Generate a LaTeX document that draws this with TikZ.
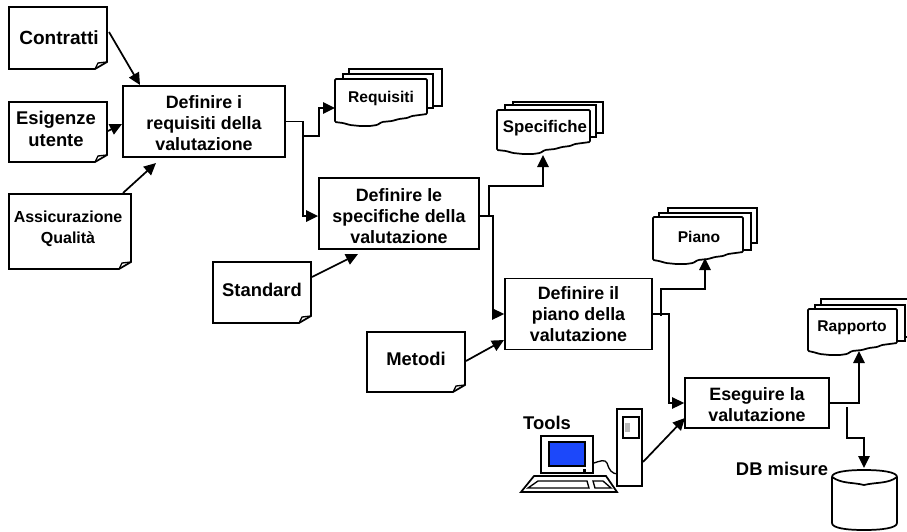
\documentclass[tikz,border=0pt]{standalone}
\usepackage{fontspec}
\setmainfont{Liberation Sans}
\usetikzlibrary{arrows.meta}
\tikzset{
  stepbox/.style = {draw, line width=1.3pt, minimum width=#1, align=center, inner sep=0pt, font=\bfseries\fontsize{13.4}{16}\selectfont},
  label/.style = {align=center, inner sep=0pt, font=\bfseries\fontsize{13.8}{16}\selectfont},
  smalllabel/.style = {align=center, inner sep=0pt, font=\bfseries\fontsize{12}{16}\selectfont},
  doclabel/.style = {align=center, inner sep=0pt, font=\bfseries\fontsize{11.7}{14}\selectfont},
  flow/.style = {line width=1.3pt, -{Triangle[length=9pt,width=8.5pt]}},
  outline/.style = {line width=1.3pt, line join=miter, fill=white}
}
% note with the folded corner: left, top, right, bottom
\newcommand{\notepage}[4]{
  \draw[outline] (#1,#2) -- (#3,#2) -- (#3,#4-7) -- (#3-12,#4) -- (#1,#4) -- cycle;
  \draw[line width=1pt] (#3-12,#4) -- (#3-9,#4-6) -- (#3,#4-7);
}
% sheet behind the front one: left, top, right, bottom
\newcommand{\backsheet}[4]{
  \draw[outline] (#1,#2) rectangle (#3,#4);
}
% front sheet with a torn lower edge: left, top, right, bottom at the right
\newcommand{\tornsheet}[4]{
  \draw[outline, rounded corners=.8pt] (#1,#4+8) -- (#1,#2) -- (#3,#2) -- (#3,#4)
    -- (#3-15,#4+2) -- (#3-20,#4+4) -- (#3-28,#4+5) -- (#3-35,#4+7) -- (#3-45,#4+8)
    -- (#3-50,#4+11) -- (#3-57,#4+12) -- (#3-67,#4+12) -- (#3-77,#4+11) -- (#3-84,#4+9) -- cycle;
}
\begin{document}
\begin{tikzpicture}[x = .75pt, y = -.75pt]
\useasboundingbox (0,0) rectangle (907,532);
% requirement notes
\notepage{9}{7}{107}{69}
\notepage{9}{102}{107}{162}
\notepage{9}{194}{131}{269}
\notepage{213}{262}{311}{323}
\notepage{367}{332}{465}{392}
\node[label, font=\bfseries\fontsize{14.3}{16}\selectfont] (contratti) at (59,38) {Contratti};
\node[label] (esigenze) at (56,129) {Esigenze\\utente};
\node[smalllabel] (assicurazione) at (68,229) {Assicurazione\\Qualità};
\node[label] (standard) at (262,290) {Standard};
\node[label] (metodi) at (416,359) {Metodi};
% process boxes
\node[stepbox=162*.75pt, minimum height=71*.75pt] (requisiti) at (204,121.5) {\rule{0pt}{12pt}Definire i\\requisiti della\\valutazione};
\node[stepbox=160*.75pt, minimum height=71*.75pt] (specifiche) at (399,213.5) {\rule{0pt}{13.5pt}Definire le\\specifiche della\\valutazione};
\node[stepbox=147*.75pt, minimum height=71*.75pt] (piano) at (578.5,314) {Definire il\\piano della\\valutazione};
\node[stepbox=144*.75pt, minimum height=50*.75pt] (esegui) at (757,403) {\rule{0pt}{12.6pt}Eseguire la\\valutazione};
% document stacks
\backsheet{349}{69}{442}{106}
\backsheet{343}{74}{433}{108}
\tornsheet{335}{79}{427}{114}
\backsheet{513}{102}{603}{133}
\backsheet{505}{105}{596}{137}
\tornsheet{497}{110}{590}{142}
\backsheet{668}{208}{757}{243}
\backsheet{659}{213}{751}{250}
\tornsheet{653}{217}{743}{252}
\backsheet{821}{299}{910}{337}
\backsheet{815}{305}{905}{341}
\tornsheet{808}{309}{897}{343}
\node[doclabel] (docrequisiti) at (381,98) {Requisiti};
\node[doclabel, font=\bfseries\fontsize{12.6}{15}\selectfont] (docspecifiche) at (545,128) {Specifiche};
\node[doclabel] (docpiano) at (699,237) {Piano};
\node[doclabel] (docrapporto) at (852,328) {Rapporto};
% database
\draw[outline] (832,477) .. controls (832,472) and (846,470) .. (864,470) .. controls (882,470) and (897,472) .. (897,477)
  -- (897,523) .. controls (897,528) and (882,530) .. (864,530) .. controls (846,530) and (832,528) .. (832,523) -- cycle;
\draw[line width=1.3pt] (832,477) .. controls (842,484) and (852,482) .. (864,485) .. controls (876,482) and (888,484) .. (897,477);
\node[label] (dblabel) at (782,469) {DB misure};
% computer
\node[label] (tools) at (547,423) {Tools};
\draw[outline] (541,436) rectangle (593,473);
\draw[line width=1.3pt, fill={rgb,255:red,28;green,72;blue,250}] (549,442) rectangle (585,466);
\fill (583,469) rectangle (586,472);
\draw[outline] (521,492) -- (534,476) -- (606,476) -- (617,492) -- cycle;
\draw[line width=1pt] (528,488) -- (538,481) -- (587,481) -- (589,488) -- cycle;
\draw[line width=1pt] (593,481) -- (603,481) -- (611,488) -- (595,488) -- cycle;
\draw[line width=1pt] (594,463) .. controls (600,461) and (605,459) .. (607,463) .. controls (609,470) and (612,474) .. (618,474);
\draw[outline] (617,409) rectangle (642,486);
\draw[line width=1.3pt] (623,417) rectangle (639,438);
\fill[gray!55] (625,423) rectangle (630,432);
% free ends of the connectors
\coordinate (fromcontratti) at (109,32);
\coordinate (tocontratti) at (140,85);
\coordinate (fromesigenze) at (108,131);
\coordinate (toesigenze) at (122,124);
\coordinate (fromassic) at (123,193);
\coordinate (toassic) at (156,163);
\coordinate (fromstandard) at (312,277);
\coordinate (tostandard) at (358,254);
\coordinate (frommetodi) at (466,361);
\coordinate (tometodi) at (504,340);
\coordinate (fromtower) at (643,462);
\coordinate (toesegui) at (685,418);
\coordinate (bendreq) at (303,121.5);
\coordinate (branchreq) at (303,136);
\coordinate (upreq) at (319,136);
\coordinate (inreq) at (335,108);
\coordinate (bendspec) at (493,216);
\coordinate (branchspec) at (489,216);
\coordinate (overspec) at (543,186);
\coordinate (inspec) at (543,155);
\coordinate (bendpiano) at (669,314);
\coordinate (branchpiano) at (661,316);
\coordinate (overpiano) at (705,289);
\coordinate (inpiano) at (705,258);
\coordinate (bendrapp) at (859,403);
\coordinate (inrapp) at (859,351);
\coordinate (branchdb) at (847,407);
\coordinate (overdb) at (864,438);
\coordinate (indb) at (864,468);
% connectors
\draw[flow] (fromcontratti) -- (tocontratti);
\draw[flow] (fromesigenze) -- (toesigenze);
\draw[flow] (fromassic) -- (toassic);
\draw[flow] (fromstandard) -- (tostandard);
\draw[flow] (frommetodi) -- (tometodi);
\draw[flow] (requisiti.east) -- (bendreq) |- ([yshift=-1.9pt]specifiche.west);
\draw[flow] (branchreq) -- (upreq) |- (inreq);
\draw[flow] ([yshift=-1.9pt]specifiche.east) -- (bendspec) |- (piano.west);
\draw[flow] (branchspec) |- (overspec) -- (inspec);
\draw[flow] (piano.east) -- (bendpiano) |- (esegui.west);
\draw[flow] (branchpiano) |- (overpiano) -- (inpiano);
\draw[flow] (esegui.east) -- (bendrapp) -- (inrapp);
\draw[flow] (branchdb) |- (overdb) -- (indb);
\draw[flow] (fromtower) -- (toesegui);
\end{tikzpicture}
\end{document}
